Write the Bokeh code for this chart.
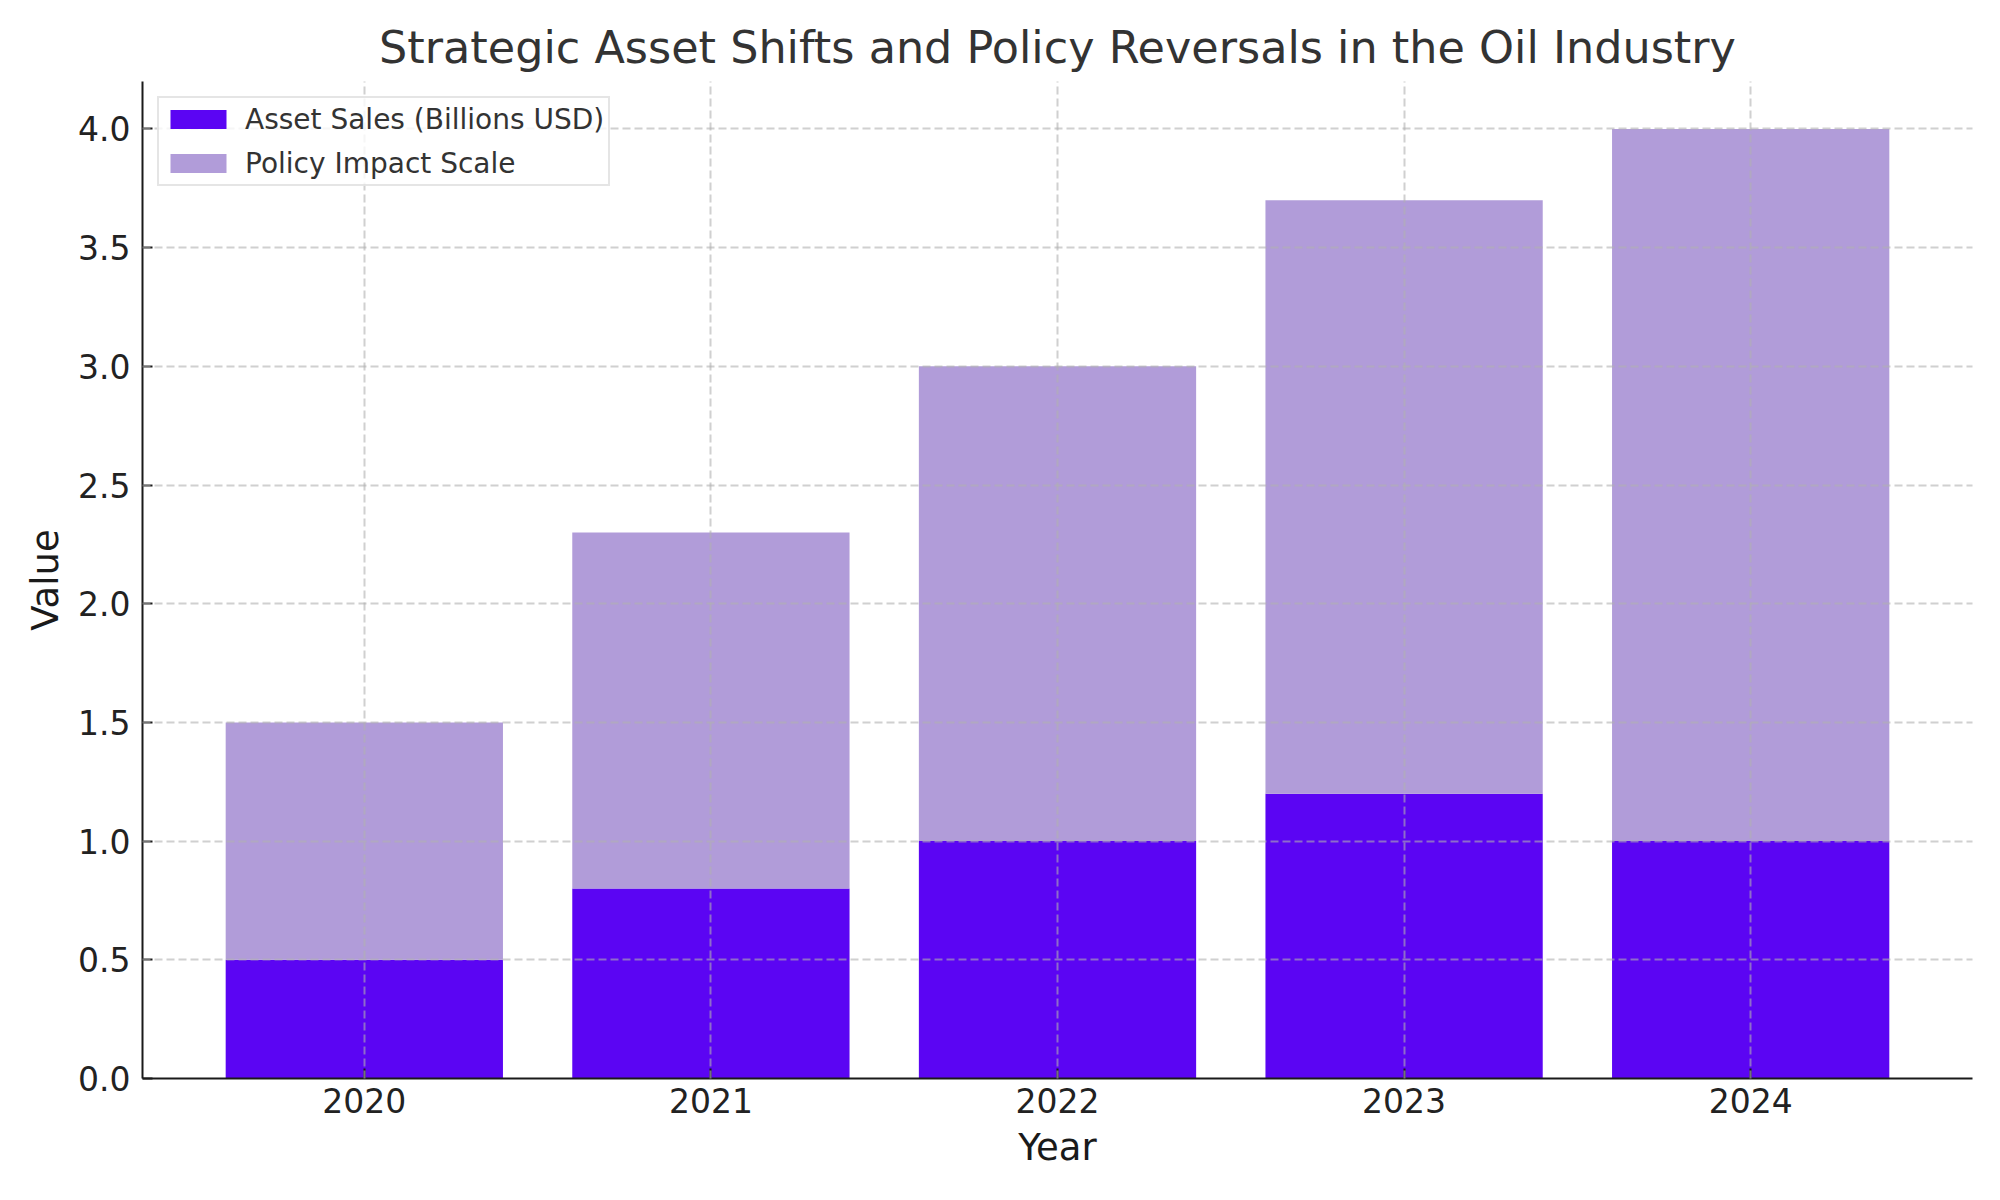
import numpy as np
from bokeh.plotting import figure
from bokeh.models import FixedTicker, Range1d, PrintfTickFormatter
from bokeh.embed import file_html
from bokeh.resources import INLINE

# ---- data ----
years = [2020, 2021, 2022, 2023, 2024]
asset_sales = [0.5, 0.8, 1.0, 1.2, 1.0]
policy_impact = [1.0, 1.5, 2.0, 2.5, 3.0]
y_ticks = [0.0, 0.5, 1.0, 1.5, 2.0, 2.5, 3.0, 3.5, 4.0]

title_text = "Strategic Asset Shifts and Policy Reversals in the Oil Industry"
x_label = "Year"
y_label = "Value"
label_asset = "Asset Sales (Billions USD)"
label_policy = "Policy Impact Scale"

DARK = "#5b05f3"
LIGHT = "#b19cd9"
FONT = "DejaVu Sans"

totals = list(np.array(asset_sales) + np.array(policy_impact))

p = figure(
    frame_width=1830, frame_height=997,
    min_border_left=142, min_border_right=20, min_border_top=81, min_border_bottom=105,
    x_range=Range1d(2019.36, 2024.64), y_range=Range1d(0, 4.2),
    output_backend="svg", toolbar_location=None, title=title_text,
)
p.outline_line_color = None
p.background_fill_color = "white"
p.border_fill_color = "white"

p.vbar(x=years, top=asset_sales, width=0.8, fill_color=DARK, line_color=None,
       legend_label=label_asset)
p.vbar(x=years, bottom=asset_sales, top=totals, width=0.8, fill_color=LIGHT,
       line_color=None, legend_label=label_policy)

# title
p.title.text_font = FONT
p.title.text_font_size = "44.5px"
p.title.text_font_style = "normal"
p.title.text_color = "#333333"
p.title.align = "center"
p.title.standoff = 17

# axes
for ax in (p.xaxis[0], p.yaxis[0]):
    ax.axis_line_color = "#1a1a1a"
    ax.axis_line_width = 2
    ax.major_tick_line_color = "#1a1a1a"
    ax.major_tick_line_width = 2
    ax.major_tick_in = 10
    ax.major_tick_out = 0
    ax.minor_tick_line_color = None
    ax.major_label_text_font = FONT
    ax.major_label_text_font_size = "33px"
    ax.major_label_text_color = "#222222"
    ax.axis_label_text_font = FONT
    ax.axis_label_text_font_size = "37px"
    ax.axis_label_text_font_style = "normal"
    ax.axis_label_text_color = "#1a1a1a"

p.xaxis.ticker = FixedTicker(ticks=years)
p.xaxis.axis_label = x_label
p.xaxis.major_label_standoff = 9
p.xaxis.axis_label_standoff = 10

p.yaxis.ticker = FixedTicker(ticks=y_ticks)
p.yaxis.formatter = PrintfTickFormatter(format="%.1f")
p.yaxis.axis_label = y_label
p.yaxis.major_label_standoff = 12
p.yaxis.axis_label_standoff = 8

# grid (drawn above bars, as in the reference)
p.xgrid.ticker = FixedTicker(ticks=years)
p.ygrid.ticker = FixedTicker(ticks=y_ticks[1:])
for g in (p.xgrid[0], p.ygrid[0]):
    g.grid_line_color = "#b0b0b0"
    g.grid_line_alpha = 0.6
    g.grid_line_width = 2
    g.grid_line_dash = "8 4"
    g.level = "guide"

# legend
lg = p.legend[0]
lg.location = "top_left"
lg.margin = 15
lg.padding = 4
lg.spacing = 10
lg.label_height = 34
lg.glyph_height = 24
lg.glyph_width = 70
lg.label_standoff = 12
lg.label_text_font = FONT
lg.label_text_font_size = "28px"
lg.label_text_color = "#333333"
lg.background_fill_color = "white"
lg.background_fill_alpha = 0.8
lg.border_line_color = "#cccccc"
lg.border_line_width = 2

open("out.html", "w").write(file_html(p, INLINE))
